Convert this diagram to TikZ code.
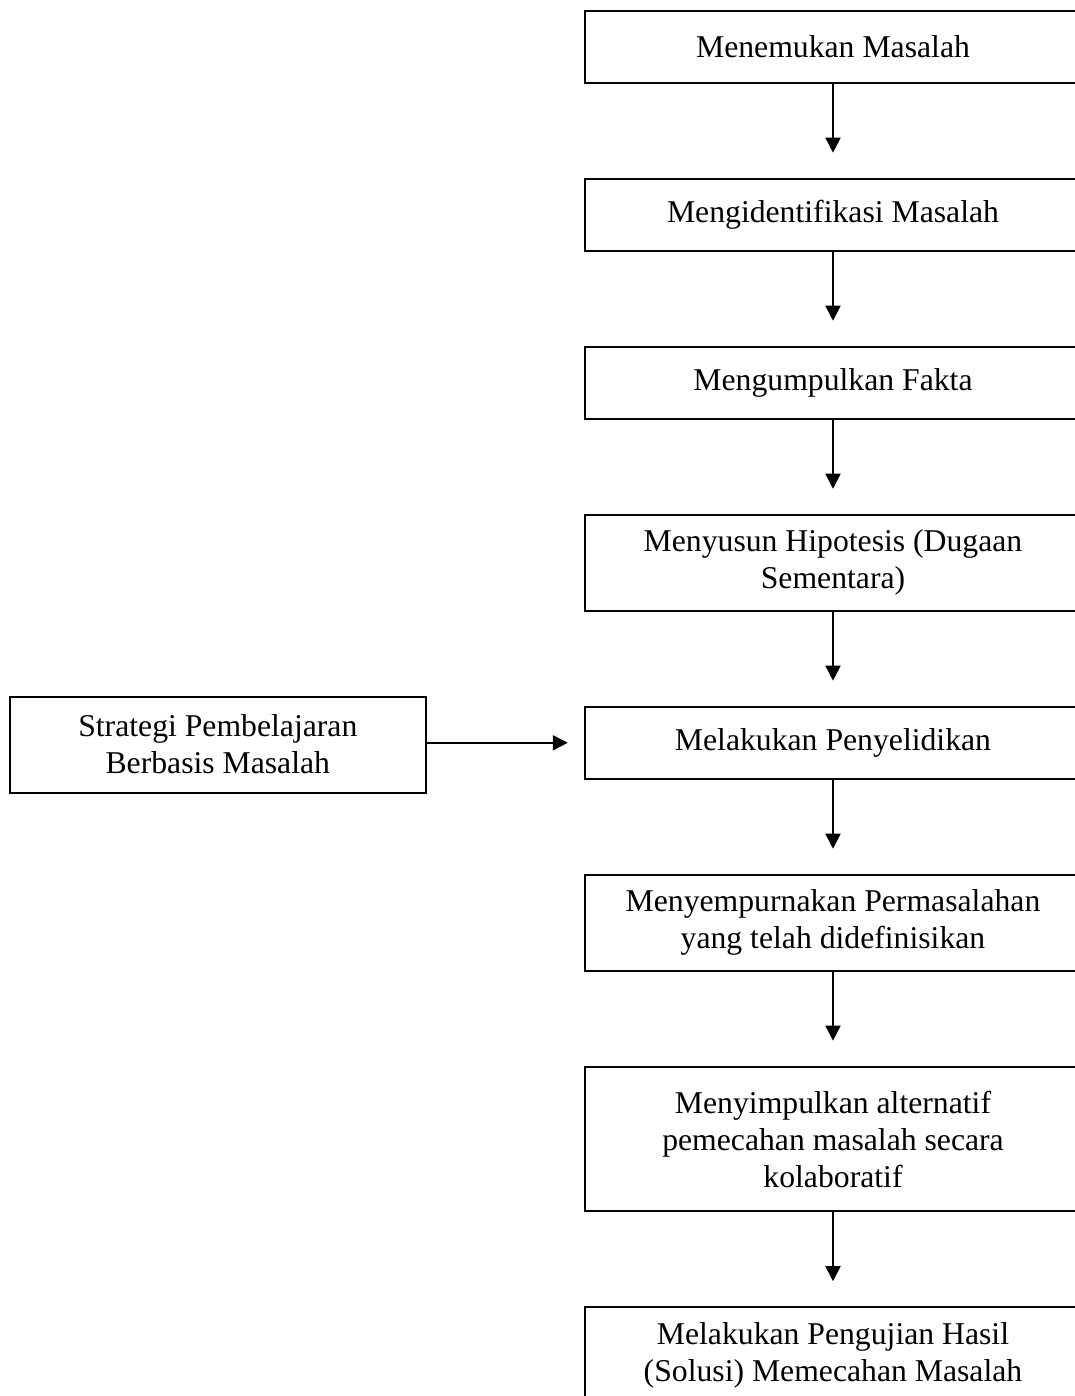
\documentclass[tikz,border=0pt]{standalone}
\usepackage{fontspec}
\setmainfont{Liberation Serif}
\usetikzlibrary{arrows.meta, positioning}

\begin{document}
\begin{tikzpicture}[
    node distance=35.6pt,
    box/.style={rectangle, draw=black, line width=0.75pt, minimum width=187.4pt, minimum height=27.25pt, inner sep=0pt, align=center, font=\fontsize{12pt}{14pt}\selectfont},
    boxtwo/.style={box, minimum height=36.3pt},
    boxthree/.style={box, minimum height=54.7pt},
    arrow/.style={-{Triangle[length=5.7pt, width=5.7pt]}, line width=0.65pt, draw=black, shorten >=9.5pt}
]
    \useasboundingbox (0,0) rectangle (406.9pt,-528.4pt);
    \clip (0,0) rectangle (406.9pt,-528.4pt);

    \node[box] (temu) at (315.3pt,-17.7pt) {Menemukan Masalah};
    \node[box, below=of temu] (identifikasi) {Mengidentifikasi Masalah};
    \node[box, below=of identifikasi] (fakta) {Mengumpulkan Fakta};
    \node[boxtwo, below=of fakta] (hipotesis) {Menyusun Hipotesis (Dugaan\\ Sementara)};
    \node[box, below=of hipotesis] (selidik) {Melakukan Penyelidikan};
    \node[boxtwo, below=of selidik] (sempurna) {Menyempurnakan Permasalahan\\ yang telah didefinisikan};
    \node[boxthree, below=of sempurna] (simpul) {Menyimpulkan alternatif\\ pemecahan masalah secara\\ kolaboratif};
    \node[boxtwo, below=of simpul] (uji) {Melakukan Pengujian Hasil\\ (Solusi) Memecahan Masalah};
    \node[boxtwo, left=59.65pt of selidik, yshift=-0.7pt, minimum width=157.5pt] (strategi) {Strategi Pembelajaran\\ Berbasis Masalah};

    \draw[arrow] (temu) -- (identifikasi);
    \draw[arrow] (identifikasi) -- (fakta);
    \draw[arrow] (fakta) -- (hipotesis);
    \draw[arrow] (hipotesis) -- (selidik);
    \draw[arrow] (selidik) -- (sempurna);
    \draw[arrow] (sempurna) -- (simpul);
    \draw[arrow] (simpul) -- (uji);
    \draw[arrow, shorten >=6.3pt] (strategi.east |- selidik.west) -- (selidik.west);
\end{tikzpicture}
\end{document}
